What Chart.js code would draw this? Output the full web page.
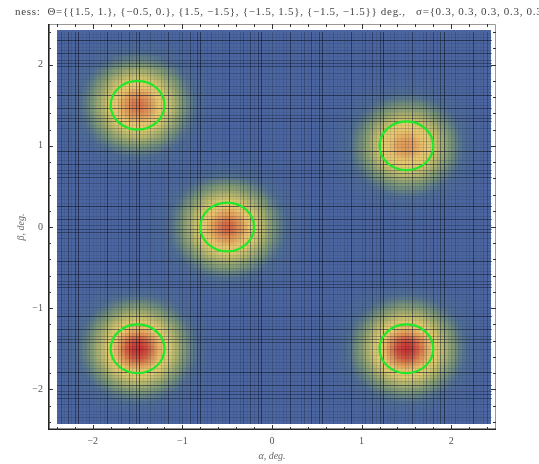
<!DOCTYPE html>
<html>
<head>
<meta charset="utf-8">
<script src="https://cdn.jsdelivr.net/npm/chart.js@4.4.0/dist/chart.umd.min.js"></script>
<style>
  html, body { margin: 0; background: #fff; }
  #wrap { width: 539px; height: 464px; }
</style>
</head>
<body>
<div id="wrap"><canvas id="chart"></canvas></div>
<script>
// blob centres (alpha, beta) in deg., widths and relative peak heights
const centerAlpha = [1.5, -0.5, 1.5, -1.5, -1.5];
const centerBeta = [1.0, 0.0, -1.5, 1.5, -1.5];
const sigma = [0.3, 0.3, 0.3, 0.3, 0.3];
const peakHeight = [0.8, 0.9, 1.0, 0.88, 1.0];

// axis ticks
const xTicks = [-2, -1, 0, 1, 2];
const yTicks = [-2, -1, 0, 1, 2];

const titleText = 'ness:  \u0398={{1.5, 1.}, {\u22120.5, 0.}, {1.5, \u22121.5}, {\u22121.5, 1.5}, {\u22121.5, \u22121.5}} deg.,   \u03c3={0.3, 0.3, 0.3, 0.3, 0.3';

const SERIF = '"Liberation Serif", "Times New Roman", serif';

// sampled region and cell size of the density plot
const plotRange = { a0: -2.4, a1: 2.45, b0: -2.42, b1: 2.4, step: 0.04 };

// colour ramp: blue -> green -> yellow -> orange -> red
const rampStops = [
    [0.00, [74, 101, 160]],
    [0.08, [80, 110, 150]],
    [0.20, [120, 148, 120]],
    [0.36, [176, 180, 110]],
    [0.52, [222, 202, 112]],
    [0.66, [232, 198, 112]],
    [0.82, [222, 146, 86]],
    [1.00, [196, 52, 52]]
];

// how dark each mesh line is (repeats)
const meshShade = [0.42, 0.08, 0.18, 0.06, 0.52, 0.12, 0.05, 0.3, 0.1, 0.06, 0.46, 0.15, 0.07, 0.22, 0.05, 0.6, 0.11];

function density(a, b) {
    let v = 0;
    for (let i = 0; i < centerAlpha.length; i++) {
        const da = a - centerAlpha[i], db = b - centerBeta[i];
        v += peakHeight[i] * Math.exp(-(da * da + db * db) / (2 * sigma[i] * sigma[i]));
    }
    return v;
}

function rampColor(v) {
    v = Math.max(0, Math.min(1, v));
    for (let i = 1; i < rampStops.length; i++) {
        if (v <= rampStops[i][0]) {
            const [t0, c0] = rampStops[i - 1];
            const [t1, c1] = rampStops[i];
            const f = (v - t0) / (t1 - t0);
            const c = c0.map((ch, k) => Math.round(ch + (c1[k] - ch) * f));
            return `rgb(${c[0]},${c[1]},${c[2]})`;
        }
    }
    return 'rgb(196,52,52)';
}

function fmt(v) {
    return v < 0 ? '\u2212' + Math.abs(v) : String(v);
}

// density cells + mesh lines, drawn through the chart scales
const heatmapPlugin = {
    id: 'heatmap',
    beforeDatasetsDraw(chart) {
        const { ctx, scales: { x, y } } = chart;
        const r = plotRange;
        const nA = Math.round((r.a1 - r.a0) / r.step);
        const nB = Math.round((r.b1 - r.b0) / r.step);
        ctx.save();
        for (let i = 0; i < nA; i++) {
            const a = r.a0 + i * r.step;
            const px0 = Math.round(x.getPixelForValue(a));
            const px1 = Math.round(x.getPixelForValue(a + r.step));
            for (let j = 0; j < nB; j++) {
                const b = r.b0 + j * r.step;
                const py0 = Math.round(y.getPixelForValue(b + r.step));
                const py1 = Math.round(y.getPixelForValue(b));
                ctx.fillStyle = rampColor(density(a + r.step / 2, b + r.step / 2));
                ctx.fillRect(px0, py0, px1 - px0, py1 - py0);
            }
        }
        const left = Math.round(x.getPixelForValue(r.a0));
        const right = Math.round(x.getPixelForValue(r.a1));
        const top = Math.round(y.getPixelForValue(r.b1));
        const bottom = Math.round(y.getPixelForValue(r.b0));
        ctx.lineWidth = 1;
        for (let i = 1; i < nA; i++) {
            const px = Math.round(x.getPixelForValue(r.a0 + i * r.step)) + 0.5;
            ctx.strokeStyle = `rgba(15,20,35,${meshShade[(i * 5 + 2) % meshShade.length]})`;
            ctx.beginPath();
            ctx.moveTo(px, top);
            ctx.lineTo(px, bottom);
            ctx.stroke();
        }
        for (let j = 1; j < nB; j++) {
            const py = Math.round(y.getPixelForValue(r.b0 + j * r.step)) + 0.5;
            ctx.strokeStyle = `rgba(15,20,35,${meshShade[(j * 7 + 5) % meshShade.length]})`;
            ctx.beginPath();
            ctx.moveTo(left, py);
            ctx.lineTo(right, py);
            ctx.stroke();
        }
        ctx.restore();
    },
    afterDatasetsDraw(chart) {
        // green sigma circles round every centre
        const { ctx, scales: { x, y } } = chart;
        ctx.save();
        ctx.strokeStyle = '#1fe82a';
        ctx.lineWidth = 2.2;
        for (let i = 0; i < centerAlpha.length; i++) {
            const cx = x.getPixelForValue(centerAlpha[i]);
            const cy = y.getPixelForValue(centerBeta[i]);
            const rx = x.getPixelForValue(centerAlpha[i] + sigma[i]) - cx;
            const ry = cy - y.getPixelForValue(centerBeta[i] + sigma[i]);
            ctx.beginPath();
            ctx.ellipse(cx, cy, rx, ry, 0, 0, Math.PI * 2);
            ctx.stroke();
        }
        ctx.restore();
    },
    afterDraw(chart) {
        const { ctx, chartArea: ca, scales: { x, y } } = chart;
        ctx.save();
        // frame
        ctx.strokeStyle = '#999';
        ctx.lineWidth = 1;
        ctx.beginPath();
        ctx.moveTo(ca.left, ca.top + 0.5);
        ctx.lineTo(ca.right - 0.5, ca.top + 0.5);
        ctx.lineTo(ca.right - 0.5, ca.bottom);
        ctx.stroke();
        ctx.strokeStyle = '#222';
        ctx.lineWidth = 1.6;
        ctx.beginPath();
        ctx.moveTo(ca.left + 0.8, ca.top);
        ctx.lineTo(ca.left + 0.8, ca.bottom - 0.8);
        ctx.lineTo(ca.right, ca.bottom - 0.8);
        ctx.stroke();
        // inward frame ticks, minor every 0.2
        ctx.strokeStyle = '#333';
        ctx.lineWidth = 1;
        for (let k = -12; k <= 12; k++) {
            const v = k / 5;
            const len = k % 5 === 0 ? 5 : 3;
            const px = Math.round(x.getPixelForValue(v)) + 0.5;
            const py = Math.round(y.getPixelForValue(v)) + 0.5;
            ctx.beginPath();
            ctx.moveTo(px, ca.bottom); ctx.lineTo(px, ca.bottom - len);
            ctx.moveTo(px, ca.top); ctx.lineTo(px, ca.top + len);
            ctx.moveTo(ca.left, py); ctx.lineTo(ca.left + len, py);
            ctx.moveTo(ca.right, py); ctx.lineTo(ca.right - len, py);
            ctx.stroke();
        }
        // plot label, runs off both sides like the original
        ctx.fillStyle = '#444';
        ctx.font = '11px ' + SERIF;
        ctx.letterSpacing = '0.7px';
        ctx.textBaseline = 'middle';
        ctx.textAlign = 'left';
        ctx.fillText(titleText, 15, 12);
        ctx.restore();
    }
};

const ctx = document.getElementById('chart').getContext('2d');
const densityChart = new Chart(ctx, {
    type: 'scatter',
    data: {
        datasets: [{
            label: 'centres',
            data: centerAlpha.map((a, i) => ({ x: a, y: centerBeta[i] })),
            pointRadius: 0
        }]
    },
    options: {
        responsive: true,
        maintainAspectRatio: false,
        animation: false,
        layout: { padding: { top: 24, right: 43, left: 0, bottom: 0 } },
        plugins: {
            legend: { display: false },
            tooltip: { enabled: false }
        },
        scales: {
            x: {
                type: 'linear',
                min: -2.5,
                max: 2.5,
                grid: { display: false, drawTicks: false },
                border: { display: false },
                afterBuildTicks: scale => { scale.ticks = xTicks.map(v => ({ value: v })); },
                afterFit: scale => { scale.height = 34; },
                ticks: {
                    color: '#555',
                    font: { family: SERIF, size: 10 },
                    padding: 5,
                    maxRotation: 0,
                    autoSkip: false,
                    callback: v => fmt(v)
                },
                title: {
                    display: true,
                    text: '\u03b1, deg.',
                    color: '#666',
                    font: { family: SERIF, size: 10, style: 'italic' },
                    padding: { top: 0, bottom: 2 }
                }
            },
            y: {
                type: 'linear',
                min: -2.5,
                max: 2.5,
                grid: { display: false, drawTicks: false },
                border: { display: false },
                afterBuildTicks: scale => { scale.ticks = yTicks.map(v => ({ value: v })); },
                afterFit: scale => { scale.width = 48; },
                ticks: {
                    color: '#555',
                    font: { family: SERIF, size: 10 },
                    padding: 5,
                    autoSkip: false,
                    callback: v => fmt(v)
                },
                title: {
                    display: true,
                    text: '\u03b2, deg.',
                    color: '#666',
                    font: { family: SERIF, size: 10, style: 'italic' },
                    padding: { top: 15, bottom: 0 }
                }
            }
        }
    },
    plugins: [heatmapPlugin]
});
</script>
</body>
</html>
